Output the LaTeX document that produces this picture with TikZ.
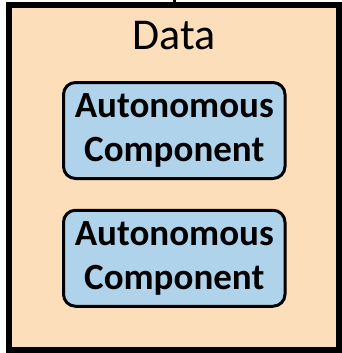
\documentclass[tikz,border=0pt]{standalone}
\usepackage{fontspec}
\setmainfont{Carlito}
\definecolor{peach}{RGB}{253,222,186}
\definecolor{lblue}{RGB}{176,211,236}
\begin{document}
\begin{tikzpicture}[x=1pt,y=-1pt,
  outerbox/.style={draw=black,fill=peach,line width=6pt},
  comp/.style={draw=black,fill=lblue,line width=3pt,rounded corners=12pt,
    minimum width=221.5pt,minimum height=96pt,inner sep=0pt,align=center,
    font=\fontsize{37}{44}\selectfont\bfseries},
  title/.style={font=\fontsize{44}{50}\selectfont,anchor=base,inner sep=0pt}]
\useasboundingbox (0,0) rectangle (341,353);
\node[outerbox,minimum width=330pt,minimum height=345pt,inner sep=0pt] (data) at (174,177.5) {};
\coordinate (top) at (174.5,0);
\draw[line width=3pt] (top) -- (data.north -| top);
\node[title] (lbl) at (174,49) {Data};
\node[comp] (c1) at (174.25,130.5) {Autonomous\\Component};
\node[comp] (c2) at (174.25,258.25) {Autonomous\\Component};
\end{tikzpicture}
\end{document}
